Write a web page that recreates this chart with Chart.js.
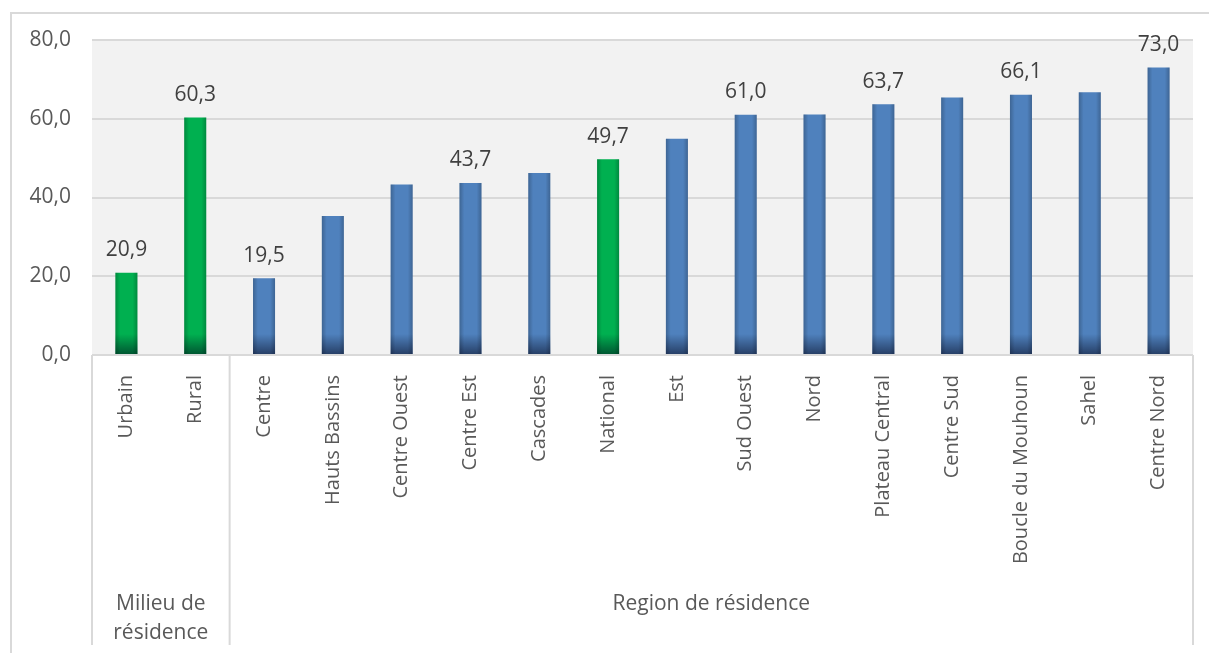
<!DOCTYPE html>
<html>
<head>
<meta charset="utf-8">
<script src="https://cdn.jsdelivr.net/npm/chart.js@4"></script>
<style>
  body { margin: 0; background: #fff; }
  #wrap { position: relative; width: 1209px; height: 653px; overflow: hidden; }
  #frame { position: absolute; left: 10px; top: 12px; right: -4px; bottom: -4px; border-left: 2px solid #d9d9d9; border-top: 2px solid #d9d9d9; }
  #chart { position: absolute; left: 0; top: 0; }
</style>
</head>
<body>
<div id="wrap">
  <div id="frame"></div>
  <canvas id="chart" width="1209" height="653"></canvas>
</div>
<script>
// categories, grouped: Milieu (2) then Région (14)
const categories = ['Urbain', 'Rural', 'Centre', 'Hauts Bassins', 'Centre Ouest', 'Centre Est', 'Cascades', 'National',
  'Est', 'Sud Ouest', 'Nord', 'Plateau Central', 'Centre Sud', 'Boucle du Mouhoun', 'Sahel', 'Centre Nord'];
const values = [20.9, 60.3, 19.5, 35.3, 43.3, 43.7, 46.2, 49.7, 54.9, 61.0, 61.1, 63.7, 65.4, 66.1, 66.7, 73.0];
const groupNames = [['Milieu de', 'résidence'], ['Region de résidence']];
const groupSizes = [2, 14];
const greenBars = ['Urbain', 'Rural', 'National'];
const labeledBars = ['Urbain', 'Rural', 'Centre', 'Centre Est', 'National', 'Sud Ouest', 'Plateau Central', 'Boucle du Mouhoun', 'Centre Nord'];
const yTicks = [0, 20, 40, 60, 80];

const txt = '#595959';
const fmt = v => v.toFixed(1).replace('.', ',');

const plotBg = {
  id: 'plotBg',
  beforeDraw(chart) {
    const { ctx, chartArea: a } = chart;
    ctx.save();
    ctx.fillStyle = '#f2f2f2';
    ctx.fillRect(a.left, a.top, a.right - a.left, a.bottom - a.top);
    ctx.restore();
  }
};

// darker edges and bottom on each bar
const barShade = {
  id: 'barShade',
  afterDatasetsDraw(chart) {
    const ctx = chart.ctx;
    chart.getDatasetMeta(0).data.forEach(bar => {
      const { x, y, base, width } = bar.getProps(['x', 'y', 'base', 'width'], true);
      const l = x - width / 2;
      ctx.save();
      let g = ctx.createLinearGradient(l, 0, l + width, 0);
      g.addColorStop(0, 'rgba(0,0,0,0.22)');
      g.addColorStop(0.22, 'rgba(0,0,0,0)');
      g.addColorStop(0.78, 'rgba(0,0,0,0)');
      g.addColorStop(1, 'rgba(0,0,0,0.22)');
      ctx.fillStyle = g;
      ctx.fillRect(l, y, width, base - y);
      g = ctx.createLinearGradient(0, base - 20, 0, base);
      g.addColorStop(0, 'rgba(0,0,20,0)');
      g.addColorStop(1, 'rgba(0,0,20,0.5)');
      ctx.fillStyle = g;
      ctx.fillRect(l, Math.max(y, base - 20), width, Math.min(20, base - y));
      ctx.restore();
    });
  }
};

const valueLabels = {
  id: 'valueLabels',
  afterDatasetsDraw(chart) {
    const ctx = chart.ctx;
    ctx.save();
    ctx.font = '21px "Open Sans"';
    ctx.fillStyle = '#404040';
    ctx.textAlign = 'center';
    ctx.textBaseline = 'bottom';
    chart.getDatasetMeta(0).data.forEach((bar, i) => {
      if (!labeledBars.includes(categories[i])) return;
      ctx.fillText(fmt(values[i]), bar.x, bar.y - 12);
    });
    ctx.restore();
  }
};

const groupAxis = {
  id: 'groupAxis',
  afterDraw(chart) {
    const { ctx, scales: { x } } = chart;
    const w = x.getPixelForValue(1) - x.getPixelForValue(0);
    const top = chart.chartArea.bottom;
    const bottom = top + 290;
    ctx.save();
    ctx.strokeStyle = '#d9d9d9';
    ctx.lineWidth = 2;
    ctx.font = '21px "Open Sans"';
    ctx.fillStyle = txt;
    ctx.textAlign = 'center';
    ctx.textBaseline = 'middle';
    let start = 0;
    const edge = i => x.getPixelForValue(i) - w / 2;
    ctx.beginPath();
    ctx.moveTo(edge(0), top);
    ctx.lineTo(edge(0), bottom);
    groupSizes.forEach((n, gi) => {
      const r = edge(start + n);
      ctx.moveTo(r, top);
      ctx.lineTo(r, bottom);
      const cx = (edge(start) + r) / 2;
      groupNames[gi].forEach((line, li) => ctx.fillText(line, cx, 604 + li * 29));
      start += n;
    });
    ctx.stroke();
    ctx.restore();
  }
};

new Chart(document.getElementById('chart'), {
  type: 'bar',
  data: {
    labels: categories,
    datasets: [{
      data: values,
      backgroundColor: categories.map(c => greenBars.includes(c) ? '#00b050' : '#4f81bd'),
      borderWidth: 0,
      barPercentage: 0.32,
      categoryPercentage: 1
    }]
  },
  options: {
    responsive: false,
    animation: false,
    layout: { padding: { left: 0, top: 40, right: 16, bottom: 8 } },
    plugins: { legend: { display: false }, tooltip: { enabled: false } },
    scales: {
      x: {
        grid: { display: false },
        border: { display: false },
        afterFit: s => { s.height = 290; },
        ticks: {
          autoSkip: false, minRotation: 90, maxRotation: 90, padding: 12,
          color: txt, font: { family: 'Open Sans', size: 20 }
        }
      },
      y: {
        min: 0, max: 80,
        afterFit: s => { s.width = 92; },
        afterBuildTicks: s => { s.ticks = yTicks.map(v => ({ value: v })); },
        grid: { color: '#d9d9d9', lineWidth: 2, drawTicks: false },
        border: { display: false },
        ticks: {
          padding: 21, color: txt, font: { family: 'Open Sans', size: 21 },
          callback: v => fmt(v)
        }
      }
    }
  },
  plugins: [plotBg, barShade, valueLabels, groupAxis]
});
</script>
</body>
</html>
